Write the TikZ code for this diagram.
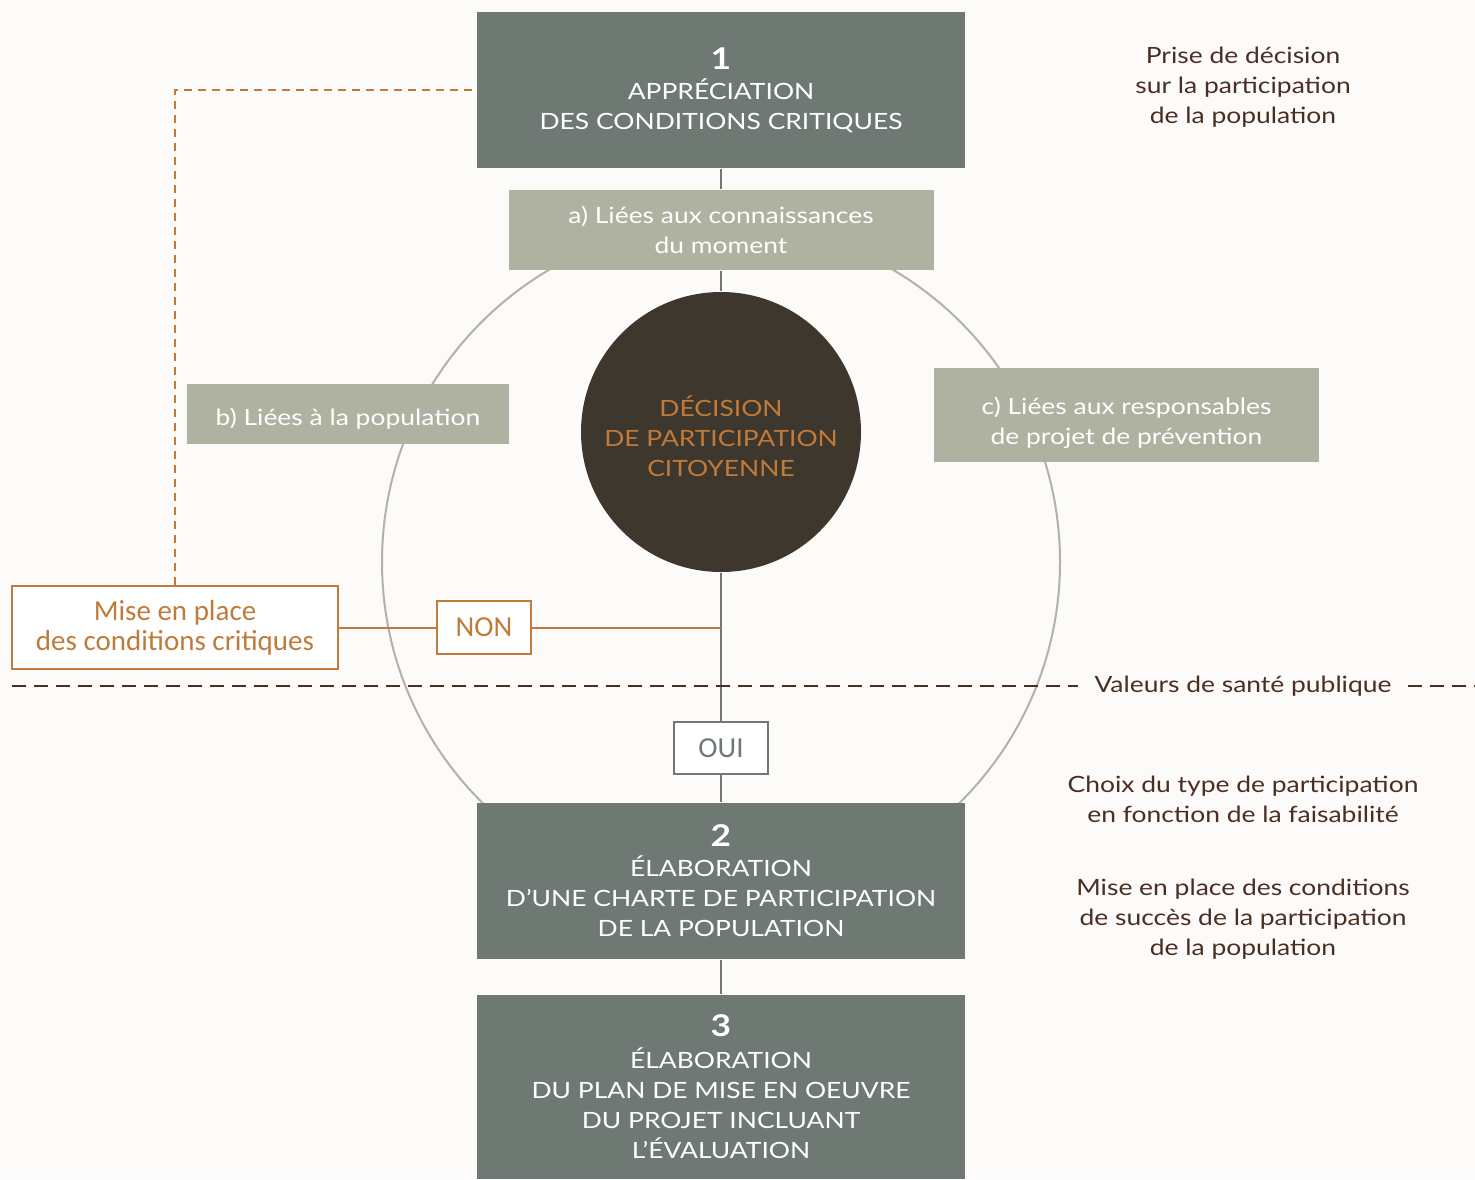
\documentclass[tikz,border=0pt]{standalone}
\usepackage{fontspec}
\setmainfont{Lato}[FakeStretch=1.18]
\newfontfamily\condfont{Carlito}
\definecolor{bg_white}{RGB}{252,251,249}
\definecolor{box_gray}{RGB}{110,121,115}
\definecolor{box_sage}{RGB}{175,177,161}
\definecolor{ring_gray}{RGB}{178,178,166}
\definecolor{node_dark}{RGB}{62,55,45}
\definecolor{edge_orange}{RGB}{192,123,59}
\definecolor{text_brown}{RGB}{75,46,34}

\begin{document}
\begin{tikzpicture}[x=0.5pt,y=-0.5pt,semithick]
    \tikzstyle{txt}=[font=\fontsize{11.2}{15}\selectfont, align=center, inner sep=0pt]
    \tikzstyle{stepbox}=[txt, fill=box_gray, text=white, minimum width=244pt]
    \tikzstyle{sagebox}=[txt, fill=box_sage, text=white]
    \tikzstyle{orbox}=[draw=edge_orange, line width=1pt, fill=white, text=edge_orange, align=center, inner sep=0pt, font=\condfont\fontsize{14.5}{15}\selectfont]
    \tikzstyle{side}=[txt, text=text_brown]
    \tikzstyle{link}=[draw=box_gray, line width=1pt]

    \fill[bg_white] (0,0) rectangle (1475,1179);
    \useasboundingbox (0,0) rectangle (1475,1179);

    \node[draw=ring_gray, line width=1pt, circle, minimum size=339pt, inner sep=0pt] (ring) at (721,562) {};

    \node[stepbox, minimum height=78pt] (appr) at (721,90) {{\fontsize{15}{15}\selectfont\bfseries 1}\\APPRÉCIATION\\DES CONDITIONS CRITIQUES};
    \node[sagebox, minimum width=212.5pt, minimum height=40pt] (know) at (721,230) {a) Liées aux connaissances\\du moment};
    \node[sagebox, minimum width=161pt, minimum height=30pt] (popu) at (348,414) {};
    \node[txt, text=white] (poputxt) at (348,419) {b) Liées à la population};
    \node[sagebox, minimum width=192.5pt, minimum height=47pt] (resp) at (1126.5,415) {};
    \node[txt, text=white] (resptxt) at (1126.5,423) {c) Liées aux responsables\\de projet de prévention};
    \node[circle, fill=node_dark, minimum size=140pt, inner sep=0pt] (dec) at (721,432) {};
    \node[txt, text=edge_orange] (dectxt) at (721,436) {DÉCISION\\DE PARTICIPATION\\CITOYENNE};

    \node[orbox, minimum width=163pt, minimum height=41.5pt] (mise) at (175,627.5) {Mise en place\\des conditions critiques};
    \node[orbox, minimum width=47pt, minimum height=26.5pt] (non) at (484,627.5) {NON};
    \node[orbox, draw=box_gray, text=box_gray, minimum width=47pt, minimum height=26pt] (oui) at (721,748) {OUI};
    \coordinate (join) at (721,627.5);

    \node[stepbox, minimum height=78pt] (charte) at (721,881) {{\fontsize{15}{15}\selectfont\bfseries 2}\\ÉLABORATION\\D’UNE CHARTE DE PARTICIPATION\\DE LA POPULATION};
    \node[stepbox, minimum height=92pt] (plan) at (721,1087) {{\fontsize{15}{15}\selectfont\bfseries 3}\\[1pt] ÉLABORATION\\DU PLAN DE MISE EN OEUVRE\\DU PROJET INCLUANT\\L’ÉVALUATION};

    \node[side] (prise) at (1243,87) {Prise de décision\\sur la participation\\de la population};
    \node[side, fill=bg_white, inner xsep=8pt] (vals) at (1243,686) {Valeurs de santé publique};
    \node[side] (choix) at (1243,799) {Choix du type de participation\\en fonction de la faisabilité};
    \node[side] (succes) at (1243,919) {Mise en place des conditions\\de succès de la participation\\de la population};
    \coordinate (vl) at (12,686);
    \coordinate (vr) at (1475,686);

    \path[link]
     (appr) -- (know)
     (know) -- (dec)
     (dec) -- (oui)
     (oui) -- (charte)
     (charte) -- (plan)
     ;
    \path[draw=edge_orange, line width=1pt]
     (mise) -- (non)
     (non) -- (join)
     ;
    \draw[edge_orange, line width=1pt, dash pattern=on 4pt off 3pt] (mise.north) |- (appr.west);
    \draw[text_brown, line width=1.2pt, dash pattern=on 7pt off 4pt] (vl) -- (vals.west) (vals.east) -- (vr);
%    \draw[ring_gray] (ring.north) -- (ring.south);
  \end{tikzpicture}
\end{document}
